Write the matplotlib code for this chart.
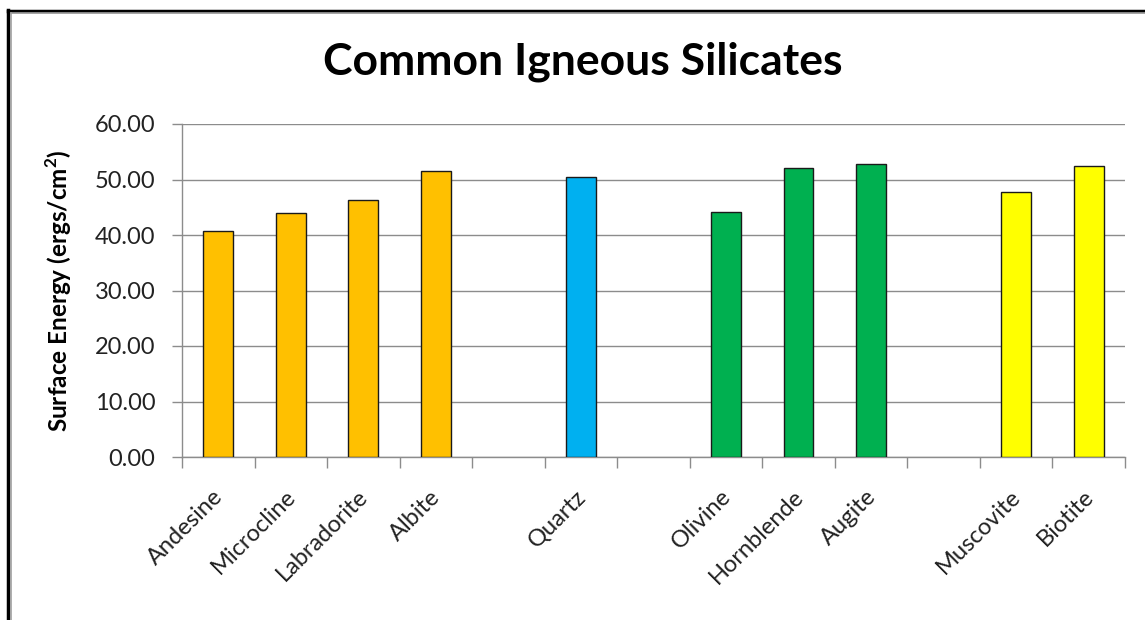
import matplotlib
matplotlib.use("Agg")
import matplotlib.pyplot as plt
import matplotlib.transforms as mtransforms
from matplotlib.lines import Line2D
import numpy as np

categories = ["Andesine", "Microcline", "Labradorite", "Albite", "",
              "Quartz", "", "Olivine", "Hornblende", "Augite", "",
              "Muscovite", "Biotite"]
values = [40.8, 44.0, 46.3, 51.5, None, 50.5, None, 44.2, 52.0, 52.8, None, 47.7, 52.5]
colors = ["#FFC000", "#FFC000", "#FFC000", "#FFC000", None, "#00B0F0", None,
          "#00B050", "#00B050", "#00B050", None, "#FFFF00", "#FFFF00"]
yticks = [0, 10, 20, 30, 40, 50, 60]
title = "Common Igneous Silicates"
ylabel = "Surface Energy (ergs/cm$^\\mathbf{2}$)"

plt.rcParams['font.family'] = ['Lato', 'DejaVu Sans']
plt.rcParams['mathtext.fontset'] = 'custom'
plt.rcParams['mathtext.bf'] = 'Lato:bold'
plt.rcParams['mathtext.rm'] = 'Lato'

fig = plt.figure(figsize=(11.45, 6.2), dpi=100)
ax = fig.add_axes([182/1145, 1 - 457/620, (1125-182)/1145, (457-124)/620])

x = np.arange(len(categories))
for xi, v, c in zip(x, values, colors):
    if v is not None:
        ax.bar(xi, v, width=0.41, color=c, edgecolor="#1a1a1a", linewidth=1.0, zorder=3)

ax.set_xlim(-0.5, len(categories) - 0.5)
ax.set_ylim(0, 60)
ax.set_yticks(yticks)
ax.set_yticklabels([f"{t:.2f}" for t in yticks], fontsize=17, color="#222222")
ax.yaxis.grid(True, color="#8c8c8c", linewidth=1.0, zorder=0)
ax.set_axisbelow(True)

# category labels (rotated, drawn as text tied to the x axis)
ax.set_xticks([])
offset = mtransforms.ScaledTranslation(-6/100, -29/100, fig.dpi_scale_trans)
for xi, name in zip(x, categories):
    if name:
        ax.text(xi, 0, name, transform=ax.get_xaxis_transform() + offset,
                rotation=45, ha="right", va="top", rotation_mode="anchor",
                fontsize=17, color="#222222", clip_on=False)
ax.set_xticks(np.arange(len(categories) + 1) - 0.5, minor=True)
ax.tick_params(axis="x", which="minor", length=8, color="#8c8c8c", width=1.0)
ax.tick_params(axis="y", length=7, color="#8c8c8c", width=1.0, pad=12)

for s in ["top", "right"]:
    ax.spines[s].set_visible(False)
for s in ["left", "bottom"]:
    ax.spines[s].set_color("#8c8c8c")
    ax.spines[s].set_linewidth(1.0)

ax.set_ylabel(ylabel, fontsize=17.5, fontweight="bold")
ax.yaxis.set_label_coords((74 - 182) / 943, 0.5)

fig.text(583/1145, 1 - 62/620, title, fontsize=32, fontweight="bold",
         ha="center", va="center")

# Frame border (top and left visible)
fig.add_artist(Line2D([8/1145, 1], [1 - 10.5/620, 1 - 10.5/620], transform=fig.transFigure,
                      color="black", linewidth=2.5))
fig.add_artist(Line2D([8/1145, 1], [1 - 13/620, 1 - 13/620], transform=fig.transFigure,
                      color="#a0a0a0", linewidth=1.2))
fig.add_artist(Line2D([8/1145, 8/1145], [0, 1 - 10/620], transform=fig.transFigure,
                      color="black", linewidth=2.5))
fig.add_artist(Line2D([10.8/1145, 10.8/1145], [0, 1 - 13/620], transform=fig.transFigure,
                      color="#a0a0a0", linewidth=1.2))

fig.savefig("out.png", dpi=100)
